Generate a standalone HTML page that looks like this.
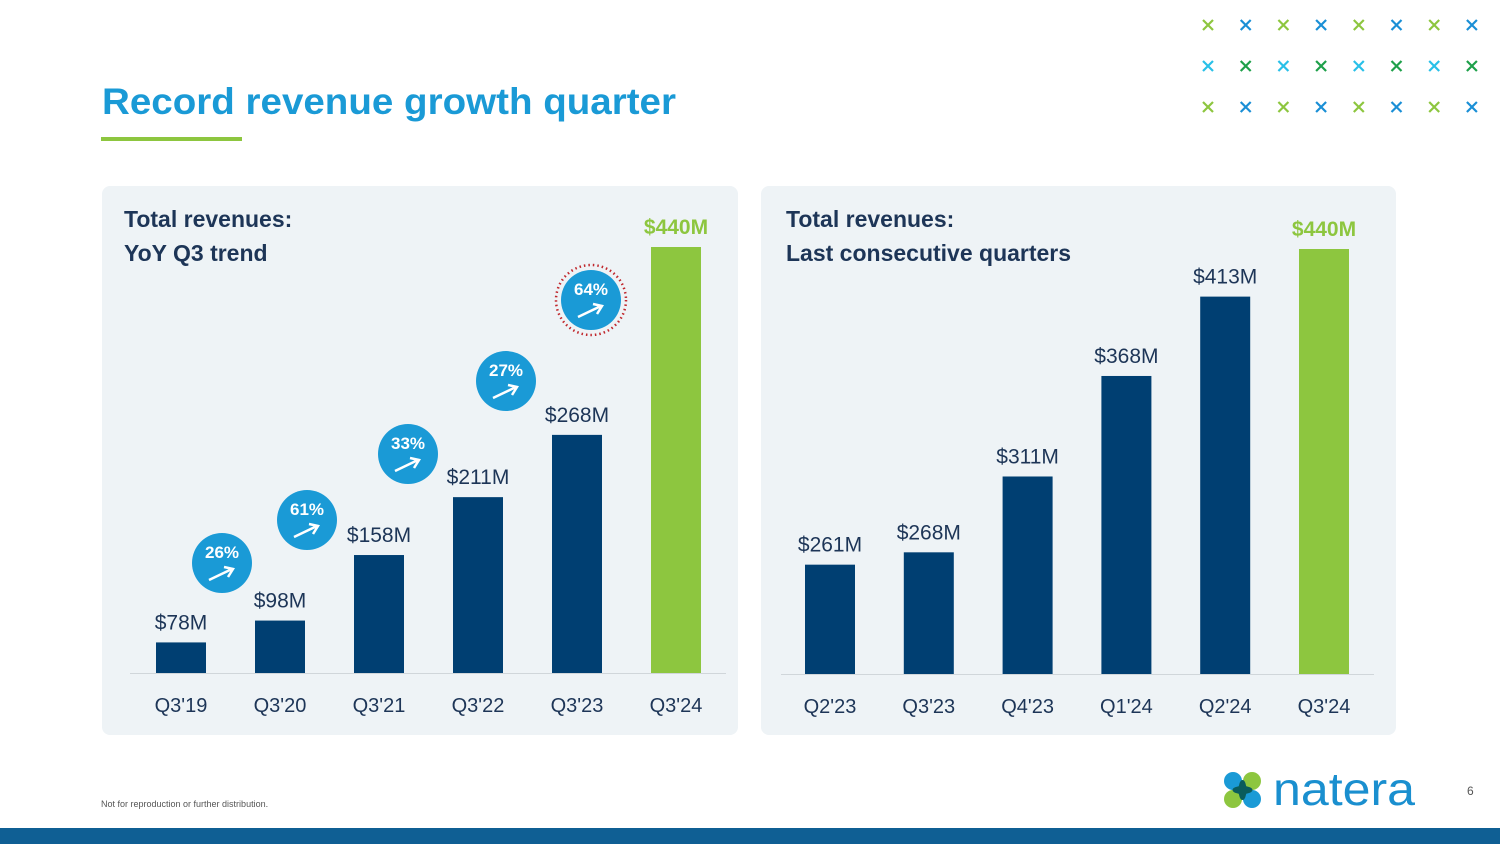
<!DOCTYPE html>
<html><head><meta charset="utf-8"><style>
body{margin:0;width:1500px;height:844px;overflow:hidden;background:#fff;font-family:"Liberation Sans","DejaVu Sans",sans-serif}
svg{display:block}
</style></head><body>
<svg id="s" width="1500" height="844" viewBox="0 0 1500 844">
<g id="xs"></g>
<text x="102" y="114" font-size="37" font-weight="bold" fill="#1a9ad6" textLength="574" lengthAdjust="spacingAndGlyphs">Record revenue growth quarter</text>
<rect x="101" y="137" width="141" height="4" fill="#8dc63f"/>
<rect x="102" y="186" width="636" height="549" rx="8" fill="#eef3f6"/>
<rect x="761" y="186" width="635" height="549" rx="8" fill="#eef3f6"/>
<text x="124" y="227" font-size="23" font-weight="bold" fill="#1d3557">Total revenues:</text>
<text x="124" y="261" font-size="23" font-weight="bold" fill="#1d3557">YoY Q3 trend</text>
<text x="786" y="227" font-size="23" font-weight="bold" fill="#1d3557">Total revenues:</text>
<text x="786" y="261" font-size="23" font-weight="bold" fill="#1d3557">Last consecutive quarters</text>
<line x1="130" y1="673.5" x2="726" y2="673.5" stroke="#d0d6da"/>
<line x1="781" y1="674.5" x2="1374" y2="674.5" stroke="#d0d6da"/>
<g id="left"></g>
<g id="right"></g>
<g id="badges"></g>
<circle cx="591" cy="300" r="35" fill="none" stroke="#c0282d" stroke-width="2.5" stroke-dasharray="1.5 3"/>
<text x="101" y="807" font-size="9" fill="#555">Not for reproduction or further distribution.</text>
<g>
<circle cx="1233" cy="781" r="9" fill="#1a9ad6"/><circle cx="1252" cy="781" r="9" fill="#8dc63f"/>
<circle cx="1233" cy="799" r="9" fill="#8dc63f"/><circle cx="1252" cy="799" r="9" fill="#1a9ad6"/>
<ellipse cx="1242.5" cy="790" rx="4" ry="10" fill="#0a5c5c"/><ellipse cx="1242.5" cy="790" rx="10" ry="4" fill="#0a5c5c"/>
<text x="1273" y="805" font-size="46" fill="#1a8fcf" textLength="142" lengthAdjust="spacingAndGlyphs">natera</text>
</g>
<text x="1467" y="795" font-size="12" fill="#555">6</text>
<rect x="0" y="828" width="1500" height="16" fill="#0f5f94"/>
</svg>
<script>
const leftCats=["Q3'19","Q3'20","Q3'21","Q3'22","Q3'23","Q3'24"];
const leftVals=[78,98,158,211,268,440];
const leftLabels=["$78M","$98M","$158M","$211M","$268M","$440M"];
const rightCats=["Q2'23","Q3'23","Q4'23","Q1'24","Q2'24","Q3'24"];
const rightVals=[261,268,311,368,413,440];
const rightLabels=["$261M","$268M","$311M","$368M","$413M","$440M"];
const growthVals=["26%","61%","33%","27%","64%"];
const NS="http://www.w3.org/2000/svg";
function mk(t,a,p){const e=document.createElementNS(NS,t);for(const k in a)e.setAttribute(k,a[k]);p.appendChild(e);return e;}
function chart(g,cats,vals,labels,x0,step,base,vmin,vmax,topY,axY){
  const y=v=>base-(v-vmin)/(vmax-vmin)*(base-topY);
  cats.forEach((c,i)=>{
    const cx=x0+i*step, last=i===cats.length-1;
    const r=mk('rect',{x:cx-25,y:y(vals[i]),width:50,height:base-y(vals[i]),fill:last?'#8dc63f':'#003f72'},g);
    
    
    const t=mk('text',{x:cx,y:y(vals[i])-13,'text-anchor':'middle','font-size':21,'font-weight':last?'bold':'normal',fill:last?'#8dc63f':'#1d3557'},g);
    t.textContent=labels[i];
    
    
    const a=mk('text',{x:cx,y:axY,'text-anchor':'middle','font-size':20,fill:'#1d3557'},g);
    a.textContent=c;
    
    
  });
}
chart(document.getElementById('left'),leftCats,leftVals,leftLabels,181,99,673,50,440,247,712);
chart(document.getElementById('right'),rightCats,rightVals,rightLabels,830,98.8,674,199,440,249,713);
const bpos=[[222,563],[307,520],[408,454],[506,381],[591,300]];
const bg=document.getElementById('badges');
growthVals.forEach((v,i)=>{
  const [cx,cy]=bpos[i];
  const c=mk('circle',{cx:cx,cy:cy,r:30,fill:'#1a9ad6'},bg);
  
  
  const t=mk('text',{x:cx,y:cy-5,'text-anchor':'middle','font-size':17,'font-weight':'bold',fill:'#fff'},bg);
  t.textContent=v;
  
  
  mk('path',{d:`M${cx-13} ${cy+17} L${cx+10} ${cy+6} M${cx+2} ${cy+4} L${cx+11} ${cy+6} L${cx+6} ${cy+14}`,stroke:'#fff','stroke-width':2.5,fill:'none'},bg);
});
const xs=document.getElementById('xs');
const cols=[['#8dc63f','#1a8fd6'],['#29c0e8','#1ea04a'],['#8dc63f','#1a8fd6']];
for(let r=0;r<3;r++)for(let c=0;c<8;c++){
  const cx=1208+c*37.7, cy=25+r*41, col=cols[r][c%2];
  mk('path',{d:`M${cx-5} ${cy-5}L${cx+5} ${cy+5}M${cx+5} ${cy-5}L${cx-5} ${cy+5}`,stroke:col,'stroke-width':2.2},xs);
}
</script>
</body></html>
